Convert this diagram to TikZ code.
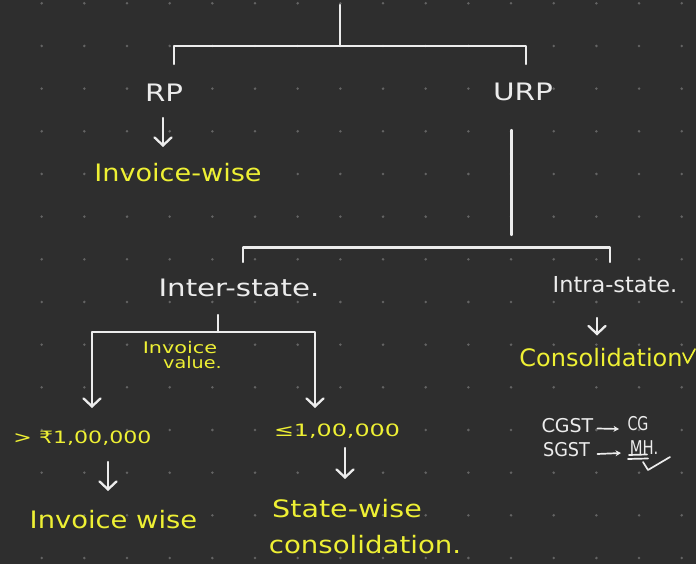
\documentclass[tikz,border=0pt]{standalone}
\usepackage{fontspec}
\setmainfont{DejaVu Sans}
\usetikzlibrary{arrows.meta,calc}
\definecolor{bg}{RGB}{46,46,46}
\definecolor{dotc}{RGB}{100,100,100}
\definecolor{ink}{RGB}{236,236,236}
\definecolor{hl}{RGB}{238,240,52}
\newcommand\myfs[1]{\fontsize{#1}{#1}\selectfont}
\tikzset{
  wire/.style={draw=ink, line width=2.3pt, line cap=round, line join=round},
  arr/.style={wire, -{Straight Barb[length=8pt,width=17pt,line cap=round]}},
  sarr/.style={draw=ink, line width=1.7pt, line cap=round, -{Stealth[length=5.5pt,width=6pt]}},
  lbl/.style={inner sep=0pt, text=ink},
  hlbl/.style={inner sep=0pt, text=hl},
  pen/.style={line width=1.7pt, line cap=round, line join=round}
}
\begin{document}
\begin{tikzpicture}[x=1pt,y=-1pt]
\fill[bg] (0,0) rectangle (696,564);
\useasboundingbox (0,0) rectangle (696,564);
\foreach \i in {1,...,16} {
  \foreach \j in {0,...,13} {
    \fill[dotc] ({-1+42.67*\i},{3.3+42.67*\j}) circle (1.4pt);
  }
}
% labels
\node[lbl, font=\myfs{24}, xscale=1.22] (rp) at (164,92.5) {RP};
\node[lbl, font=\myfs{24}, xscale=1.23] (urp) at (523,91.5) {URP};
\node[hlbl, font=\myfs{24}, xscale=1.13] (invw1) at (178,173) {Invoice-wise};
\node[lbl, font=\myfs{24}, xscale=1.22] (inter) at (239,287.5) {Inter-state.};
\node[lbl, font=\myfs{22}, xscale=1.02] (intra) at (615,285) {Intra-state.};
\node[hlbl, font=\myfs{24}, xscale=1.0] (cons) at (601,357.5) {Consolidation};
\node[hlbl, font=\myfs{16}, xscale=1.3] (ivA) at (180,347.5) {Invoice};
\node[hlbl, font=\myfs{16}, xscale=1.2] (ivB) at (192.5,362.5) {value.};
\node[hlbl, font=\myfs{17}, xscale=1.3] (gt) at (82.5,438) {> ₹1,00,000};
\node[hlbl, font=\myfs{17}, xscale=1.4] (le) at (337,431) {≤1,00,000};
\node[hlbl, font=\myfs{24}, xscale=1.14] (invw2) at (113.5,520) {Invoice wise};
\node[hlbl, font=\myfs{24}, xscale=1.19] (sw) at (347,509) {State-wise};
\node[hlbl, font=\myfs{24}, xscale=1.15] (consol) at (365,544.5) {consolidation.};
\node[lbl, font=\myfs{19}, xscale=1.0] (cgst) at (567.5,425.5) {CGST};
\node[lbl, font=\myfs{19}, xscale=0.75] (cg) at (638,424) {CG};
\node[lbl, font=\myfs{19}, xscale=0.93] (sgst) at (566.5,450) {SGST};
\node[lbl, font=\myfs{19}, xscale=0.78] (mh) at (644,447.5) {MH.};
% top brace
\coordinate (t0) at (340,5);
\coordinate (j0) at (340,46);
\coordinate (dL) at (174,64);
\coordinate (dR) at (526,64);
\draw[wire] (t0) -- (j0);
\draw[wire] (dL) |- (j0) -| (dR);
% URP line and second brace
\coordinate (u1) at (511.5,130);
\coordinate (u2) at (511.5,235);
\draw[wire] (u1) -- (u2);
\coordinate (b2L) at (243,262);
\coordinate (b2R) at (610,262);
\coordinate (b2y) at (420,247.5);
\draw[wire] (b2L) |- (b2y) -| (b2R);
% inter-state split
\coordinate (i0) at (218,315);
\coordinate (i1) at (218,332);
\coordinate (aL) at (92,408);
\coordinate (aR) at (315,408);
\draw[wire] (i0) -- (i1);
\draw[arr] (i1) -| (aL);
\draw[arr] (i1) -| (aR);
% down arrows
\draw[arr] ($(rp)+(-1,25.5)$) -- ($(invw1 -| rp)+(-1,-26)$);
\draw[arr] ($(intra -| cons)+(-4,33)$) -- ($(cons)+(-4,-22)$);
\draw[arr] ($(gt -| invw2)+(-5.5,24)$) -- ($(invw2)+(-5.5,-29)$);
\draw[arr] ($(le -| sw)+(-2,17)$) -- ($(sw)+(-2,-30)$);
% small arrows
\draw[sarr] ($(cgst)+(30,3)$) -- ($(cg)+(-19,5)$);
\draw[sarr] ($(sgst)+(31,4)$) -- ($(mh)+(-23,5.5)$);
% marks
\draw[ink, pen] (629,455) -- (647,454.5);
\draw[ink, pen] (628,459) -- (648,458.5);
\draw[ink, pen] (643,462) -- (648,470) -- (670,457);
\draw[hl, pen] (683,353) -- (687.5,363) -- (695,349);
\end{tikzpicture}
\end{document}
